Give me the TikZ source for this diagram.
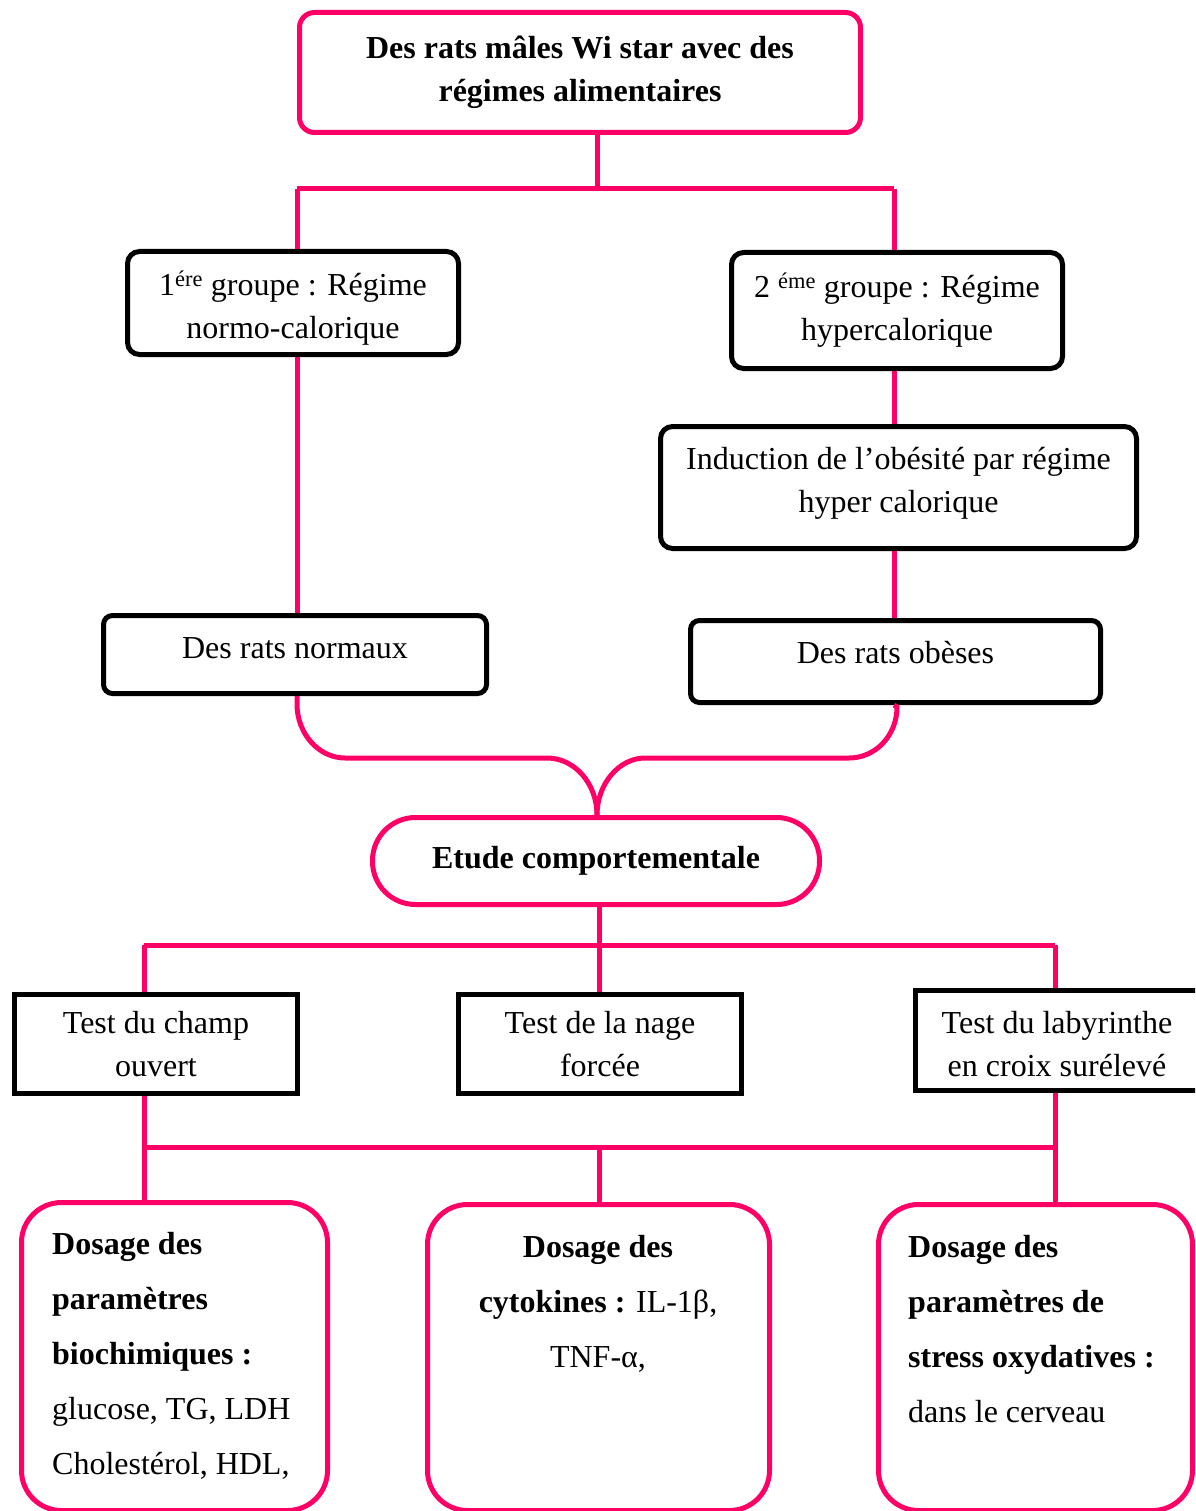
\documentclass[tikz,border=0pt]{standalone}
\usepackage{fontspec}
\setmainfont{Liberation Serif}
\definecolor{pk}{HTML}{FF0066}
\begin{document}
\begin{tikzpicture}[x=1pt,y=-1pt,
  txt/.style={font=\fontsize{32}{43}\selectfont, align=center, inner sep=0pt},
  pbox/.style={txt, draw=pk, line width=5pt, rounded corners=15pt},
  bbox/.style={txt, draw=black, line width=5pt, rounded corners=12pt},
  sbox/.style={txt, draw=black, line width=5pt},
  dbox/.style={draw=pk, line width=5pt, rounded corners=40pt, inner sep=0pt},
  dtxt/.style={font=\fontsize{32}{55}\selectfont, inner sep=0pt},
  conn/.style={draw=pk, line width=5pt}]
\useasboundingbox (0,0) rectangle (1195,1511);
\clip (0,0) rectangle (1195,1511);
\fill[white] (0,0) rectangle (1195,1511);

% boxes
\node[pbox, minimum width=561pt, minimum height=120pt, font=\fontsize{32}{43}\selectfont\bfseries] (top) at (580,72.5)
  {Des rats mâles Wi star avec des\\régimes alimentaires};
\node[bbox, minimum width=331pt, minimum height=103pt] (g1) at (293,303)
  {\rule{0pt}{34pt}1\textsuperscript{ére} groupe : Régime\\normo-calorique};
\node[bbox, minimum width=331pt, minimum height=116pt] (g2) at (897,310.5)
  {2 \textsuperscript{éme} groupe : Régime\\hypercalorique};
\node[bbox, minimum width=476pt, minimum height=122pt, text depth=16pt] (ind) at (898.5,487.5)
  {Induction de l’obésité par régime\\hyper calorique};
\node[bbox, minimum width=383pt, minimum height=78pt, rounded corners=9pt, text depth=12pt] (norm) at (295,654.5)
  {Des rats normaux};
\node[bbox, minimum width=410pt, minimum height=82pt, rounded corners=9pt, text depth=19pt] (obe) at (895.5,661.5)
  {Des rats obèses};
\node[pbox, minimum width=447pt, minimum height=87pt, rounded corners=43pt, font=\fontsize{32}{43}\selectfont\bfseries] (etude) at (596,861)
  {Etude comportementale};
\node[sbox, minimum width=283pt, minimum height=99pt] (A) at (156,1044)
  {Test du champ\\ouvert};
\node[sbox, minimum width=283pt, minimum height=99pt] (B) at (600,1044)
  {Test de la nage\\forcée};
\node[sbox, minimum width=283pt, minimum height=100pt] (C) at (1057,1040.5)
  {\rule{0pt}{30pt}Test du labyrinthe\\en croix surélevé};

\node[dbox, minimum width=306pt, minimum height=308pt] (b1) at (174.5,1356.5) {};
\node[dbox, minimum width=342pt, minimum height=306pt] (b2) at (598.5,1357.5) {};
\node[dbox, minimum width=314pt, minimum height=306pt] (b3) at (1035.5,1357.5) {};
\node[dtxt, anchor=north west, align=left] (b1t) at (52,1232)
  {\textbf{Dosage des}\\\textbf{paramètres}\\\textbf{biochimiques :}\\glucose, TG, LDH\\Cholestérol, HDL,};
\node[dtxt, anchor=north, align=center] (b2t) at (598,1235)
  {\textbf{Dosage des}\\\textbf{cytokines :} IL-1β,\\TNF-α,};
\node[dtxt, anchor=north west, align=left] (b3t) at (908,1235)
  {\textbf{Dosage des}\\\textbf{paramètres de}\\\textbf{stress oxydatives :}\\dans le cerveau};

% top connectors
\coordinate (j) at (597,189);
\coordinate (jl) at (297,189);
\coordinate (jr) at (894,189);
\draw[conn] (j |- top.south) -- (j);
\draw[conn] (jl) -- (jr);
\draw[conn] (jl) -- (jl |- g1.north);
\draw[conn] (jr) -- (jr |- g2.north);
\draw[conn] (jl |- g1.south) -- (jl |- norm.north);
\draw[conn] (jr |- g2.south) -- (jr |- ind.north);
\draw[conn] (jr |- ind.south) -- (jr |- obe.north);

% merging curves
\coordinate (jm) at (597,789);
\draw[conn] (jl |- norm.south) -- (297,704) .. controls (297,734) and (319,758) .. (345,758)
  -- (547,758) .. controls (575,758) and (597,784) .. (jm |- etude.north);
\draw[conn] (jr |- obe.south) -- (897,707) .. controls (897,735) and (876,758) .. (849,758)
  -- (645,758) .. controls (619,758) and (597,784) .. (jm |- etude.north);

% middle connectors
\coordinate (m) at (599,945);
\coordinate (ml) at (144,945);
\coordinate (mr) at (1055,945);
\draw[conn] (m |- etude.south) -- (m);
\draw[conn] (ml) -- (mr);
\draw[conn] (ml) -- (ml |- A.north);
\draw[conn] (m) -- (m |- B.north);
\draw[conn] (mr) -- (mr |- C.north);

% bottom connectors
\coordinate (h1) at (144,1147);
\coordinate (h2) at (599,1147);
\coordinate (h3) at (1055,1147);
\draw[conn] (h1 |- A.south) -- (h1 |- b1.north);
\draw[conn] (h3 |- C.south) -- (h3 |- b3.north);
\draw[conn] (h1) -- (h3);
\draw[conn] (h2) -- (h2 |- b2.north);
\end{tikzpicture}
\end{document}
